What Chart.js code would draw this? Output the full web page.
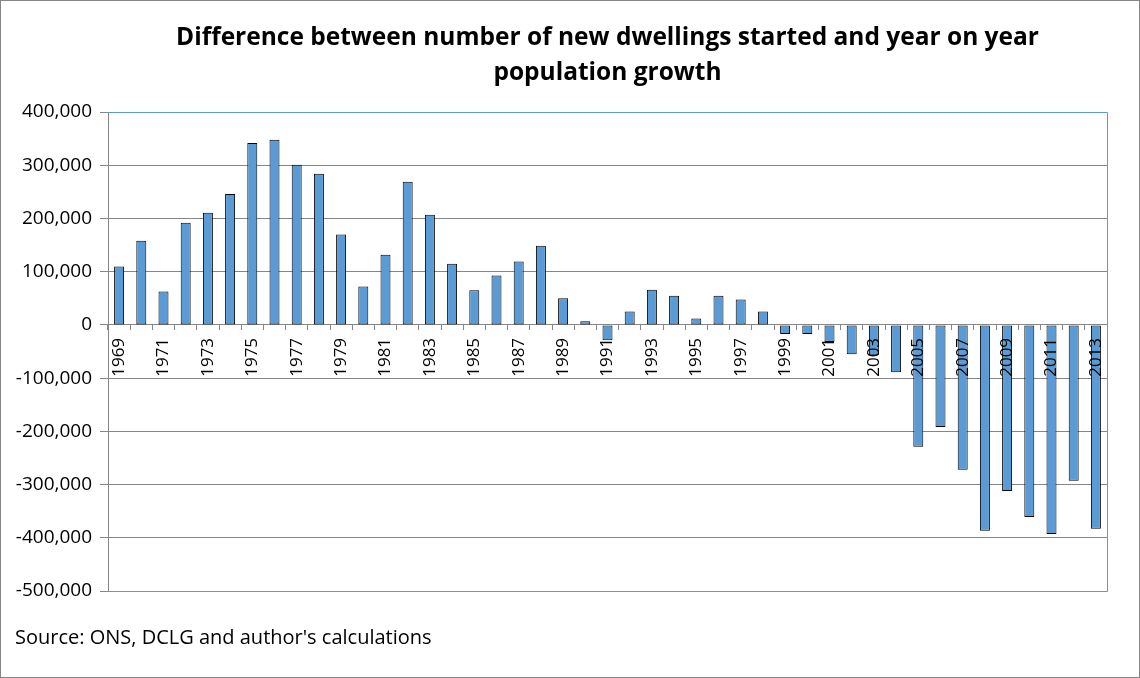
<!DOCTYPE html>
<html>
<head>
<meta charset="utf-8">
<script src="https://cdn.jsdelivr.net/npm/chart.js@4/dist/chart.umd.min.js"></script>
<style>
  html, body { margin: 0; padding: 0; background: #fff; }
  #wrap { width: 1140px; height: 678px; position: relative; }
</style>
</head>
<body>
<div id="wrap"><canvas id="chart" width="1140" height="678"></canvas></div>
<script>
// years on the category axis
const years = [
  "1969", "1970", "1971", "1972", "1973", "1974", "1975", "1976", "1977",
  "1978", "1979", "1980", "1981", "1982", "1983", "1984", "1985", "1986",
  "1987", "1988", "1989", "1990", "1991", "1992", "1993", "1994", "1995",
  "1996", "1997", "1998", "1999", "2000", "2001", "2002", "2003", "2004",
  "2005", "2006", "2007", "2008", "2009", "2010", "2011", "2012", "2013",
];

// dwellings started minus population growth
const difference = [
  110000, 158000, 63000, 192000, 211000, 246000, 342000, 348000, 301000,
  284000, 170000, 72000, 132000, 269000, 207000, 115000, 65000, 93000,
  119000, 149000, 50000, 7000, -29000, 25000, 66000, 55000, 12000,
  55000, 48000, 25000, -17000, -17000, -32000, -55000, -57000, -89000,
  -229000, -192000, -272000, -387000, -312000, -361000, -393000, -293000, -383000,
];

const yMin = -500000;
const yMax = 400000;
const yStep = 100000;

const titleLines = [
  "Difference between number of new dwellings started and year on year",
  "population growth",
];
const sourceNote = "Source: ONS, DCLG and author's calculations";

const gridGrey = "#868686";
const plotBlue = "#5B9BD5";

// blue frame round the plot area (top, right, bottom), like the Excel original
const plotFrame = {
  id: "plotFrame",
  beforeDatasetsDraw(chart) {
    const { ctx, chartArea: a } = chart;
    ctx.save();
    ctx.strokeStyle = plotBlue;
    ctx.lineWidth = 1;
    ctx.beginPath();
    ctx.moveTo(a.left, Math.round(a.top) + 0.5);
    ctx.lineTo(Math.round(a.right) + 0.5, Math.round(a.top) + 0.5);
    ctx.lineTo(Math.round(a.right) + 0.5, Math.round(a.bottom) + 0.5);
    ctx.lineTo(a.left, Math.round(a.bottom) + 0.5);
    ctx.stroke();
    ctx.restore();
  },
  afterDraw(chart) {
    const ctx = chart.ctx;
    ctx.save();
    ctx.strokeStyle = gridGrey;
    ctx.lineWidth = 1;
    ctx.strokeRect(0.5, 0.5, chart.width - 1, chart.height - 1);
    ctx.restore();
  },
};

new Chart(document.getElementById("chart").getContext("2d"), {
  type: "bar",
  data: {
    labels: years,
    datasets: [
      {
        data: difference,
        backgroundColor: plotBlue,
        borderColor: "#000000",
        borderWidth: 1,
        borderSkipped: false,
        barPercentage: 0.45,
        categoryPercentage: 1.0,
      },
    ],
  },
  options: {
    responsive: false,
    animation: false,
    layout: {
      padding: { left: 15, right: 33, top: 0, bottom: 0 },
    },
    scales: {
      x: {
        position: { y: 0 },
        afterFit: (scale) => {
          scale.height = 0;
        },
        grid: {
          display: true,
          drawOnChartArea: false,
          drawTicks: true,
          tickLength: 5,
          color: gridGrey,
          offset: true,
        },
        border: { display: true, color: gridGrey, width: 1 },
        ticks: {
          z: 1,
          autoSkip: false,
          minRotation: 90,
          maxRotation: 90,
          padding: 8,
          color: "#000000",
          font: { family: "'Open Sans'", size: 17 },
          callback: function (value, index) {
            return index % 2 === 0 ? this.getLabelForValue(value) : "";
          },
        },
      },
      y: {
        min: yMin,
        max: yMax,
        afterFit: (scale) => {
          scale.width = 93;
        },
        grid: {
          color: gridGrey,
          tickLength: 8,
          drawTicks: true,
        },
        border: { display: true, color: gridGrey, width: 1 },
        ticks: {
          stepSize: yStep,
          padding: 8,
          color: "#000000",
          font: { family: "'Open Sans'", size: 19 },
          callback: (v) => v.toLocaleString("en-US"),
        },
      },
    },
    plugins: {
      legend: { display: false },
      tooltip: { enabled: false },
      title: {
        display: true,
        text: titleLines,
        fullSize: false,
        color: "#000000",
        font: { family: "'Open Sans'", size: 24.5, weight: "bold", lineHeight: 1.43 },
        padding: { top: 20, bottom: 22 },
      },
      subtitle: {
        display: true,
        text: sourceNote,
        position: "bottom",
        align: "start",
        color: "#000000",
        font: { family: "'Open Sans'", size: 20, weight: "normal", lineHeight: 1.2 },
        padding: { top: 35, bottom: 28 },
      },
    },
  },
  plugins: [plotFrame],
});
</script>
</body>
</html>
